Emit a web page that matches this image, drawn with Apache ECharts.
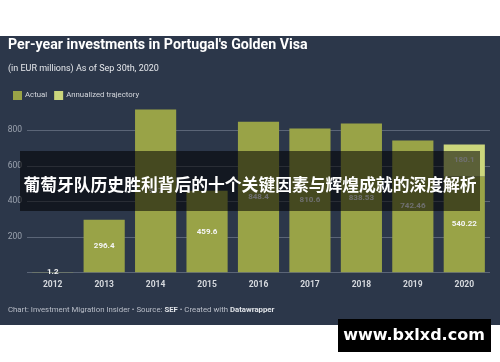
<!DOCTYPE html>
<html>
<head>
<meta charset="utf-8">
<script src="https://cdn.jsdelivr.net/npm/echarts@6/dist/echarts.min.js"></script>
<style>
html,body{margin:0;padding:0;background:#fff;}
#c{width:500px;height:362px;}
</style>
</head>
<body>
<div id="c"></div>
<script>
const categories = ['2012','2013','2014','2015','2016','2017','2018','2019','2020'];
const actualValues = [1.2, 296.4, 917, 459.6, 848.4, 810.6, 838.53, 742.46, 540.22];
const annualizedValues = [null, null, null, null, null, null, null, null, 180.1];
const yTicks = [0, 200, 400, 600, 800, 1000];

const chart = echarts.init(document.getElementById('c'));
const F = 'Roboto, "Noto Sans", sans-serif';
const gridColors = yTicks.map(v => v === 1000 ? 'rgba(0,0,0,0)' : '#5b6577');

chart.setOption({
  animation: false,
  backgroundColor: '#ffffff',
  textStyle: { fontFamily: F },
  graphic: [
    { type: 'rect', z: -100, shape: { x: 0, y: 36, width: 500, height: 289 }, style: { fill: '#2c374a' } },
    { type: 'text', z: 10, left: 8, top: 38, style: { text: "Per-year investments in Portugal's Golden Visa", fill: '#ffffff', font: 'bold 14.2px ' + F } },
    { type: 'text', z: 10, left: 8, top: 64, style: { text: '(in EUR millions) As of Sep 30th, 2020', fill: '#e6e8ec', font: '9px ' + F } },
    { type: 'text', z: 10, left: 8, top: 306, style: {
        text: '{n|Chart: Investment Migration Insider • Source: }{b|SEF}{n| • Created with }{b|Datawrapper}',
        rich: {
          n: { fill: '#b9bec8', font: '7.8px ' + F },
          b: { fill: '#dfe2e7', font: 'bold 7.8px ' + F }
        }
    } },
    { type: 'rect', z: 100, shape: { x: 20, y: 151, width: 460, height: 60 }, style: { fill: 'rgba(0,0,0,0.55)' } },
    { type: 'text', z: 101, x: 250, y: 185, style: { text: '葡萄牙队历史胜利背后的十个关键因素与辉煌成就的深度解析', fill: '#ffffff', font: 'bold 16.8px "Noto Sans CJK SC", sans-serif', align: 'center', verticalAlign: 'middle' } },
    { type: 'rect', z: 100, shape: { x: 338, y: 319, width: 153, height: 33 }, style: { fill: '#000000' } },
    { type: 'text', z: 101, x: 414, y: 336, style: { text: 'www.bxlxd.com', fill: '#ffffff', font: 'bold 16px "DejaVu Sans", sans-serif', align: 'center', verticalAlign: 'middle' } }
  ],
  legend: {
    left: 8, top: 86,
    icon: 'rect', itemWidth: 9, itemHeight: 9, itemGap: 7,
    textStyle: { color: '#d4d7dd', fontSize: 7.8, fontFamily: F, padding: [0, 0, 0, -2] },
    data: ['Actual', 'Annualized trajectory']
  },
  grid: { left: 27, right: 10, top: 94.8, bottom: 89.7, containLabel: false },
  xAxis: {
    type: 'category', data: categories,
    axisLine: { show: false }, axisTick: { show: false },
    axisLabel: { color: '#d6d9de', fontSize: 8.5, fontWeight: 'bold', margin: 8, fontFamily: F }
  },
  yAxis: {
    type: 'value', min: 0, max: 1000, interval: 200,
    axisLine: { show: false }, axisTick: { show: false },
    axisLabel: { color: '#9ba2ae', fontSize: 8.5, margin: 5, fontFamily: F,
      formatter: v => (v === 0 || v === 1000) ? '' : String(v) },
    splitLine: { show: true, lineStyle: { color: gridColors, width: 1 } }
  },
  series: [
    {
      name: 'Actual', type: 'bar', stack: 'total', data: actualValues,
      barCategoryGap: '20%',
      itemStyle: { color: '#99a347' },
      label: { show: true, position: 'inside', color: '#f4f4f4', fontSize: 8, fontWeight: 'bold', fontFamily: F }
    },
    {
      name: 'Annualized trajectory', type: 'bar', stack: 'total', data: annualizedValues,
      barCategoryGap: '20%',
      itemStyle: { color: '#cbd67c' },
      label: { show: true, position: 'inside', color: '#f4f4f4', fontSize: 8, fontWeight: 'bold', fontFamily: F }
    }
  ]
});
</script>
</body>
</html>
